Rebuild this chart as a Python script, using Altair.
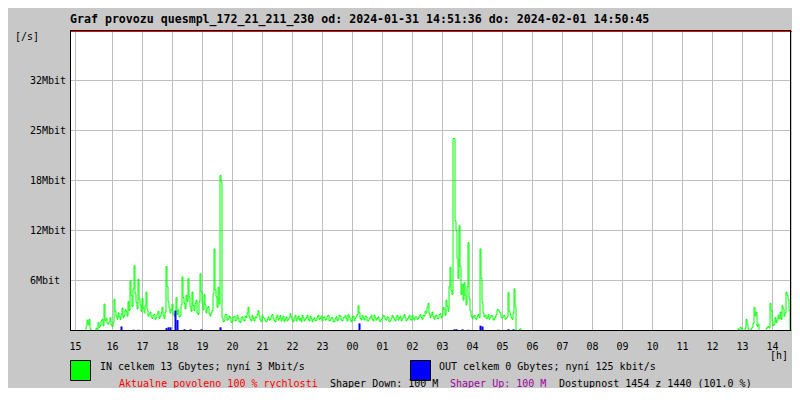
import pandas as pd
import altair as alt

FONT = "DejaVu Sans Mono"

# ---------------- data ----------------
title_text = "Graf provozu quesmpl_172_21_211_230 od: 2024-01-31 14:51:36 do: 2024-02-01 14:50:45"

# x axis: minutes since midnight of 2024-01-31 (next day continues > 1440)
hour_ticks = [886, 960, 1020, 1080, 1140, 1200, 1260, 1320, 1380, 1440, 1500, 1560,
              1620, 1680, 1740, 1800, 1860, 1920, 1980, 2040, 2100, 2160, 2220, 2280]
hour_labels = ["15", "16", "17", "18", "19", "20", "21", "22", "23", "00", "01", "02",
               "03", "04", "05", "06", "07", "08", "09", "10", "11", "12", "13", "14"]
x_domain = [876, 2316]

# y axis (Mbit/s)
y_ticks = [6.25, 12.5, 18.75, 25, 31.25]
y_labels = ["6Mbit", "12Mbit", "18Mbit", "25Mbit", "32Mbit"]
y_domain = [0, 37.5]

# IN traffic (Mbit/s), first block: one sample every 2 minutes from 15:04
in_a_start = 904
in_step = 2
in_a_values = [
    0, 0, 0.5, 1.3, 0.7, 1.4, 0.2, 0, 0, 0,
    0, 0, 0.3, 0.1, 1.0, 0.4, 0.6, 1.2, 1.4, 0.6,
    3.3, 1.2, 1.5, 0.9, 0.8, 1.1, 1.6, 0.7, 0.5, 1.0,
    3.9, 2.4, 1.8, 1.4, 2.2, 1.7, 1.4, 2.0, 2.8, 1.6,
    1.9, 2.6, 2.4, 1.8, 3.6, 2.5, 6.2, 4.4, 3.0, 5.2,
    8.1, 4.6, 3.5, 2.7, 6.4, 3.9, 3.2, 2.4, 4.0, 2.8,
    2.2, 3.1, 4.8, 2.6, 1.8, 2.1, 2.3, 1.7, 1.5, 1.9,
    2.0, 1.4, 1.6, 2.1, 2.4, 1.5, 1.8, 2.2, 2.9, 1.9,
    1.5, 2.3, 8.0, 5.5, 3.6, 2.8, 2.2, 2.6, 3.3, 2.1,
    1.8, 2.4, 4.1, 2.0, 2.6, 1.7, 1.8, 3.2, 6.7, 4.1,
    3.4, 2.7, 4.4, 3.6, 6.5, 4.2, 3.0, 2.4, 4.8, 3.1,
    2.5, 3.4, 3.8, 2.2, 2.0, 3.6, 7.1, 4.8, 3.5, 2.6,
    4.5, 3.2, 2.2, 2.8, 3.0, 2.1, 1.8, 2.2, 2.5, 4.6,
    10.2, 5.1, 4.2, 2.9, 5.4, 3.3, 19.4, 18.6, 1.6, 1.1,
    1.2, 2.0, 2.0, 1.3, 1.4, 1.8, 1.6, 1.0, 1.1, 1.7,
    1.8, 1.2, 1.3, 1.9, 1.5, 1.1, 1.0, 1.6, 1.7, 1.3,
    1.2, 1.8, 1.6, 2.2, 2.9, 1.7, 1.4, 1.2, 1.9, 1.5,
    1.2, 1.7, 1.6, 2.0, 2.5, 1.8, 1.3, 1.1, 1.9, 1.6,
    1.5, 1.2, 1.1, 1.4, 1.7, 1.3, 1.4, 1.8, 2.0, 1.5,
    1.2, 1.1, 1.6, 1.9, 1.3, 1.5, 1.9, 1.2, 1.5, 1.8,
    1.1, 1.4, 1.7, 1.2, 1.4, 1.6, 2.1, 1.7, 1.3, 1.1,
    1.6, 1.9, 1.2, 1.5, 1.8, 1.3, 1.5, 1.1, 1.9, 1.6,
    1.2, 1.4, 1.6, 1.9, 1.4, 1.2, 1.8, 1.5, 1.1, 1.4,
    1.6, 1.2, 1.3, 1.7, 1.9, 1.4, 1.5, 1.8, 1.2, 1.6,
    1.7, 1.3, 1.4, 1.8, 1.9, 1.2, 1.3, 1.6, 1.6, 1.1,
    1.1, 1.5, 1.7, 1.2, 1.4, 1.9, 1.8, 1.3, 1.2, 1.6,
    1.6, 1.9, 1.5, 1.2, 2.0, 1.7, 1.3, 1.1, 1.6, 1.8,
    1.2, 1.5, 1.8, 2.0, 3.1, 2.2, 1.5, 1.3, 1.9, 1.6,
    1.3, 1.8, 1.7, 1.2, 1.2, 1.5, 1.6, 1.9, 1.4, 1.2,
    1.9, 1.6, 1.3, 1.5, 1.7, 1.2, 1.1, 1.4, 1.5, 1.9,
    1.8, 1.4, 1.3, 1.7, 1.6, 1.1, 1.2, 1.5, 1.9, 1.6,
    1.4, 1.2, 1.7, 1.9, 1.3, 1.6, 1.8, 1.2, 1.5, 1.7,
    2.0, 1.6, 1.2, 1.4, 1.6, 1.9, 1.4, 1.3, 1.9, 1.5,
    1.3, 1.7, 1.7, 1.4, 1.5, 1.8, 2.0, 1.6, 1.4, 1.9,
    1.8, 2.4, 2.2, 2.9, 3.4, 2.1, 1.6, 1.9, 2.3, 1.7,
    1.4, 1.8, 1.9, 1.5, 1.5, 2.0, 2.1, 1.6, 1.8, 2.9,
    2.6, 1.9, 3.8, 3.0, 2.4, 5.5, 7.9, 5.0, 4.5, 24.0,
    24.0, 13.7, 12.5, 9.0, 6.5, 13.1, 8.0, 4.5, 5.8, 3.8,
    6.0, 4.4, 3.2, 5.5, 11.0, 4.0, 2.5, 1.8, 1.5, 1.7,
    1.9, 1.5, 1.4, 1.8, 2.0, 1.6, 10.2, 6.5, 3.5, 2.2,
    1.7, 1.9, 1.5, 1.6, 2.0, 1.4, 1.6, 1.9, 1.8, 1.3,
    1.4, 1.7, 2.0, 2.6, 2.6, 2.3, 2.2, 1.6, 1.6, 1.8,
    1.9, 1.4, 1.5, 1.7, 4.75, 2.4, 2.0, 1.6, 1.4, 2.2,
    5.2, 3.0, 0, 0, 0, 0.1, 0.2, 0, 0, 0,
]
# silent period until 12:44
in_zero_end = 2204
# IN traffic, last block: one sample every 2 minutes from 12:46
in_c_start = 2206
in_c_values = [
    0, 0, 0, 0.2, 0, 0.4, 0.3, 0, 0, 0,
    0.3, 1.4, 0.8, 0.2, 0, 0, 0.2, 0.4, 0.9, 2.9,
    1.8, 2.3, 0.5, 0.8, 0, 0, 0, 0, 0, 0,
    0, 0.2, 0.4, 0.5, 0.3, 3.4, 2.5, 1.2, 0.6, 0.8,
    1.6, 1.0, 1.3, 1.9, 1.5, 2.3, 1.4, 3.1, 2.7, 1.8,
    2.2, 4.8, 4.4, 3.9, 2.5, 0.1, 0, 0, 0, 0.3,
    2.1, 0.5, 3.6,
]

# OUT traffic spikes (minutes, Mbit/s)
out_minutes = [978, 1002, 1012, 1068, 1072, 1076, 1086, 1090, 1104, 1116, 1138, 1176,
               1454, 1644, 1648, 1660, 1672, 1696, 1700, 1732, 1752, 1762, 2322, 2328]
out_mbit = [0.5, 0.1, 0.1, 0.3, 0.4, 0.4, 2.5, 1.3, 0.15, 0.15, 0.15, 0.4,
            0.9, 0.15, 0.15, 0.15, 0.1, 0.6, 0.5, 0.1, 0.15, 0.15, 0.15, 0.2]

unit_label = "[/s]"
hour_unit_label = "[h]"
in_legend = "IN celkem 13 Gbytes; nyní 3 Mbit/s"
out_legend = "OUT celkem 0 Gbytes; nyní 125 kbit/s"
status_red = "Aktualne povoleno 100 % rychlosti"
status_down = "Shaper Down: 100 M"
status_up = "Shaper Up: 100 M"
status_avail = "Dostupnost 1454 z 1440 (101.0 %)"

# ---------------- build tables ----------------
in_times = [in_a_start + in_step * i for i in range(len(in_a_values))] + [in_zero_end] + \
           [in_c_start + in_step * i for i in range(len(in_c_values))]
in_vals = in_a_values + [0] + in_c_values
df_in = pd.DataFrame({"t": in_times, "v": in_vals})
df_out = pd.DataFrame({"t": out_minutes, "v": out_mbit})
df_xt = pd.DataFrame({"t": hour_ticks, "lab": hour_labels})
df_yt = pd.DataFrame({"v": y_ticks, "lab": y_labels})
one = pd.DataFrame({"a": [0]})

GRID = "#bebebe"

x_scale = alt.Scale(domain=x_domain, range=[0.5, 720.5], nice=False, zero=False)
y_scale = alt.Scale(domain=y_domain, range=[300.5, 0.5], nice=False, zero=False)

xgrid = alt.Chart(df_xt).mark_rule(color=GRID, strokeWidth=1).encode(
    x=alt.X("t:Q", scale=x_scale, axis=None), y=alt.value(0), y2=alt.value(300))
ygrid = alt.Chart(df_yt).mark_rule(color=GRID, strokeWidth=1).encode(
    y=alt.Y("v:Q", scale=y_scale, axis=None), x=alt.value(0), x2=alt.value(720))
xlabels = alt.Chart(df_xt).mark_text(font=FONT, fontSize=10, color="black", align="center",
                                     baseline="middle").encode(
    x="t:Q", y=alt.value(316.5), text="lab:N")
ylabels = alt.Chart(df_yt).mark_text(font=FONT, fontSize=10, color="black", align="left",
                                     baseline="middle").encode(
    y="v:Q", x=alt.value(-40), text="lab:N")

line_in = alt.Chart(df_in).mark_line(interpolate="step", strokeWidth=1, color="#00ff00").encode(
    x="t:Q", y="v:Q")
rules_out = alt.Chart(df_out).mark_rule(strokeWidth=2, color="#0000ff").encode(
    x="t:Q", y="v:Q", y2=alt.datum(0))


def hrule(y, x1, x2, color="black"):
    return alt.Chart(one).mark_rule(color=color, strokeWidth=1).encode(
        y=alt.value(y), x=alt.value(x1), x2=alt.value(x2))


def vrule(x, y1, y2, color="black"):
    return alt.Chart(one).mark_rule(color=color, strokeWidth=1).encode(
        x=alt.value(x), y=alt.value(y1), y2=alt.value(y2))


frame = [
    hrule(300.5, 0, 721), hrule(0.5, 0, 721), hrule(1.5, 0, 729, "#ff0000"),
    vrule(0.5, 0, 301), vrule(720.5, 0, 301),
]


def box(x1, color):
    return alt.Chart(one).mark_rect(color=color, stroke="black", strokeWidth=1).encode(
        x=alt.value(x1), x2=alt.value(x1 + 20), y=alt.value(330.5), y2=alt.value(350.5))


def label(text, x, y, color="black", size=10, weight="normal", baseline="middle"):
    return alt.Chart(one).mark_text(text=text, font=FONT, fontSize=size, fontWeight=weight,
                                    color=color, align="left", baseline=baseline).encode(
        x=alt.value(x), y=alt.value(y))


texts = [
    label(title_text, 0, -7, size=11.6, weight="bold", baseline="alphabetic"),
    label(unit_label, -55, 7),
    label(hour_unit_label, 700, 326),
    label(in_legend, 30, 337),
    label(out_legend, 369, 337),
    label(status_red, 49, 354, color="#ff0000"),
    label(status_down, 260, 354),
    label(status_up, 380, 354, color="#a000a0"),
    label(status_avail, 489, 354),
]

chart = alt.layer(
    xgrid, ygrid, line_in, rules_out, *frame, xlabels, ylabels,
    box(0.5, "#00ff00"), box(340.5, "#0000ff"), *texts
).properties(
    width=720, height=300,
    padding={"left": 62, "top": 22, "right": 2, "bottom": 58},
    autosize=alt.AutoSizeParams(type="none"),
    background="#c8c8c8",
).configure_view(fill="white", stroke="transparent")

chart.save("out.html", embed_options={"renderer": "svg", "actions": False})
